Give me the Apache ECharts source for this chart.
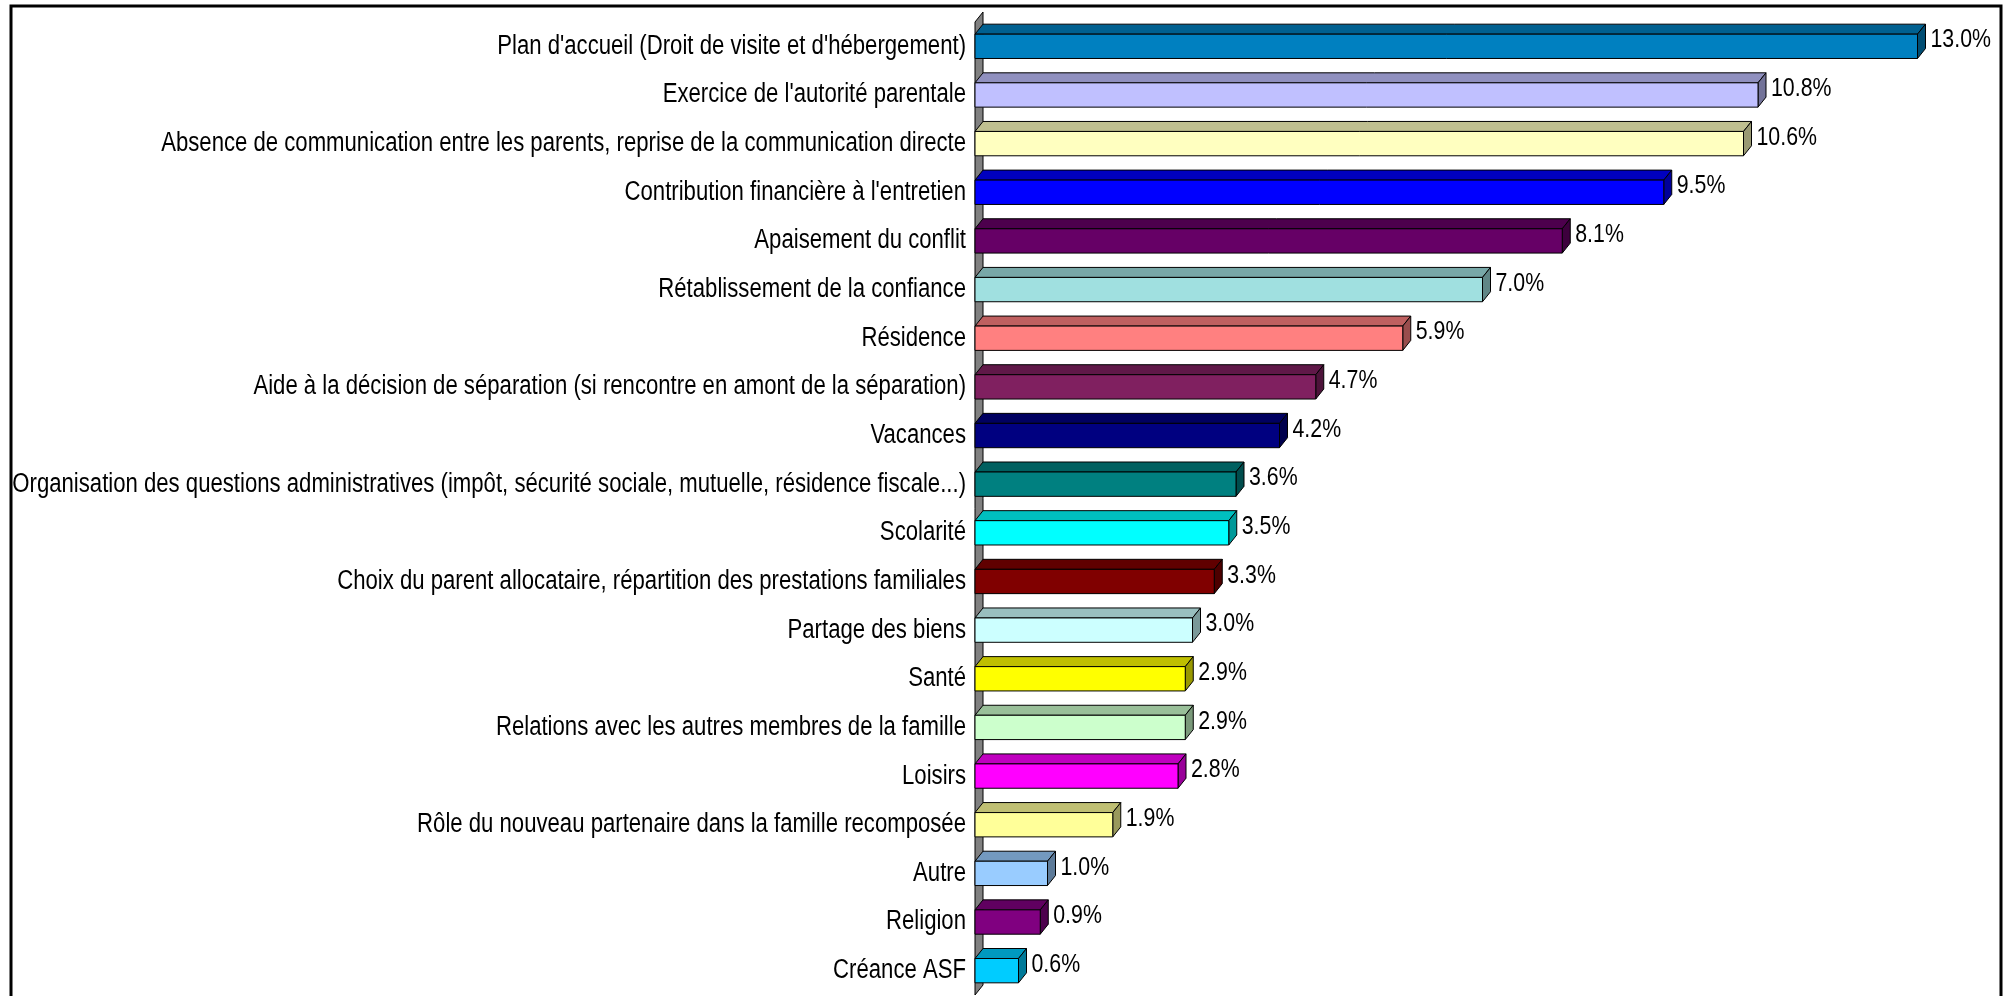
<!DOCTYPE html>
<html>
<head>
<meta charset="utf-8">
<title>Thèmes abordés en médiation familiale</title>
<script src="https://cdn.jsdelivr.net/npm/echarts@6/dist/echarts.min.js"></script>
<style>
  html, body { margin: 0; padding: 0; background: #ffffff; }
  #chart { width: 2015px; height: 996px; }
</style>
</head>
<body>
<div id="chart"></div>
<script>
// Themes discussed, share of all mentions (%)
const categories = [
  "Plan d'accueil (Droit de visite et d'hébergement)",
  "Exercice de l'autorité parentale",
  "Absence de communication entre les parents, reprise de la communication directe",
  "Contribution financière à l'entretien",
  "Apaisement du conflit",
  "Rétablissement de la confiance",
  "Résidence",
  "Aide à la décision de séparation (si rencontre en amont de la séparation)",
  "Vacances",
  "Organisation des questions administratives (impôt, sécurité sociale, mutuelle, résidence fiscale...)",
  "Scolarité",
  "Choix du parent allocataire, répartition des prestations familiales",
  "Partage des biens",
  "Santé",
  "Relations avec les autres membres de la famille",
  "Loisirs",
  "Rôle du nouveau partenaire dans la famille recomposée",
  "Autre",
  "Religion",
  "Créance ASF"
];
const values = [13.0, 10.8, 10.6, 9.5, 8.1, 7.0, 5.9, 4.7, 4.2, 3.6, 3.5, 3.3, 3.0, 2.9, 2.9, 2.8, 1.9, 1.0, 0.9, 0.6];
const barColors = [
  "#0080c0", "#c0c0ff", "#ffffc0", "#0000ff", "#660066",
  "#a0e0e0", "#ff8080", "#802060", "#000080", "#008080",
  "#00ffff", "#800000", "#ccffff", "#ffff00", "#ccffcc",
  "#ff00ff", "#ffff99", "#99ccff", "#800080", "#00ccff"
];

const FONT = "'Liberation Sans', Arial, sans-serif";
const NARROW = 0.82;  // horizontal squeeze giving a narrow sans look
const DEPTH_X = 8;    // oblique depth of the 3D bars, px
const DEPTH_Y = 10;

function shade(hex, k) {
  const n = parseInt(hex.slice(1), 16);
  const r = Math.round(((n >> 16) & 255) * k);
  const g = Math.round(((n >> 8) & 255) * k);
  const b = Math.round((n & 255) * k);
  return "rgb(" + r + "," + g + "," + b + ")";
}

const chart = echarts.init(document.getElementById('chart'), null, { renderer: 'canvas' });

function renderBar(params, api) {
  const idx = params.dataIndex;
  const v = api.value(0);
  const start = api.coord([0, idx]);
  const end = api.coord([v, idx]);
  const band = api.size([0, 1])[1];
  const h = band * 0.5;
  const x0 = start[0], x1 = end[0];
  const yc = start[1];
  const yt = yc - h / 2, yb = yc + h / 2;
  const color = barColors[idx];
  const line = { stroke: '#000000', lineWidth: 1 };
  return {
    type: 'group',
    children: [
      // top face
      { type: 'polygon', shape: { points: [[x0, yt], [x0 + DEPTH_X, yt - DEPTH_Y], [x1 + DEPTH_X, yt - DEPTH_Y], [x1, yt]] },
        style: Object.assign({ fill: shade(color, 0.75) }, line) },
      // end face
      { type: 'polygon', shape: { points: [[x1, yt], [x1 + DEPTH_X, yt - DEPTH_Y], [x1 + DEPTH_X, yb - DEPTH_Y], [x1, yb]] },
        style: Object.assign({ fill: shade(color, 0.6) }, line) },
      // front face
      { type: 'rect', shape: { x: x0, y: yt, width: x1 - x0, height: h },
        style: Object.assign({ fill: color }, line) },
      // value label
      { type: 'text', x: x1 + DEPTH_X + 5, y: yc - 6, scaleX: NARROW,
        style: { text: v.toFixed(1) + '%', fill: '#000000', font: '26px ' + FONT, verticalAlign: 'middle', align: 'left' } },
      // category label
      { type: 'text', x: x0 - 9, y: yc, scaleX: NARROW,
        style: { text: categories[idx], fill: '#000000', font: '27px ' + FONT, verticalAlign: 'middle', align: 'right' } }
    ]
  };
}

function renderWall(params, api) {
  const cs = params.coordSys;
  const x0 = api.coord([0, 0])[0];
  const top = cs.y, bottom = cs.y + cs.height;
  return {
    type: 'polygon',
    shape: { points: [[x0, top], [x0 + DEPTH_X, top - DEPTH_Y], [x0 + DEPTH_X, bottom - DEPTH_Y], [x0, bottom]] },
    style: { fill: '#808080', stroke: '#000000', lineWidth: 1 }
  };
}

chart.setOption({
  animation: false,
  backgroundColor: '#ffffff',
  grid: { left: 975, right: 25, top: 22, bottom: 1, containLabel: false, outerBoundsMode: 'none' },
  xAxis: {
    type: 'value', min: 0, max: 14,
    show: false
  },
  yAxis: {
    type: 'category', data: categories, inverse: true,
    axisLine: { show: false }, axisTick: { show: false },
    axisLabel: { show: false }
  },
  graphic: [
    { type: 'rect', shape: { x: 11, y: 6, width: 1990, height: 1000 },
      style: { fill: 'none', stroke: '#000000', lineWidth: 3 }, z: 100 }
  ],
  series: [
    { type: 'custom', name: 'wall', renderItem: renderWall, data: [[0]], z: 1, silent: true },
    { type: 'custom', name: 'Thèmes', renderItem: renderBar, data: values.map(v => [v]), z: 2,
      encode: { x: 0 } }
  ]
});
</script>
</body>
</html>
